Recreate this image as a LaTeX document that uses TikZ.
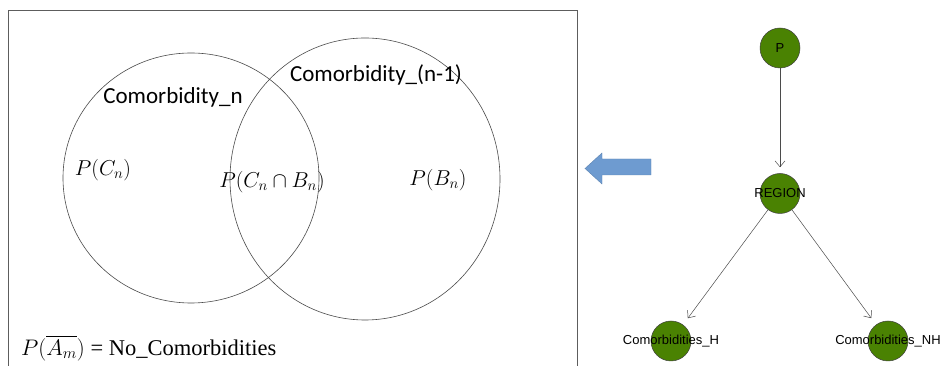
\RequirePackage{fix-cm}
\documentclass[tikz,border=0pt]{standalone}
\usepackage{amsmath,amssymb}
\usepackage{fontspec}
\setmainfont{Liberation Serif}
\newfontfamily\calfont{Carlito}
\newfontfamily\arialfont{Liberation Sans}
\usepackage{xcolor}
\usepackage{tikz}
\usetikzlibrary{shapes.geometric, arrows.meta, positioning, calc}
\definecolor{leaf}{RGB}{74,130,2}
\definecolor{sky}{RGB}{110,155,208}
\definecolor{ink}{RGB}{75,75,75}
\tikzset{
  panel/.style ={rectangle, draw=ink!90, line width=0.8pt, inner sep=0pt},
  setc/.style  ={ellipse, draw=ink, line width=0.6pt, inner sep=0pt},
  setlbl/.style={font=\calfont\fontsize{23}{27}\selectfont, inner sep=0pt},
  prob/.style  ={font=\fontsize{21.5}{25}\selectfont, inner sep=0pt},
  note/.style  ={font=\fontsize{22.5}{27}\selectfont, inner sep=0pt},
  blockar/.style={fill=sky, draw=sky!85!black, line width=0.4pt},
  gnode/.style ={circle, draw=black!75, fill=leaf, line width=0.5pt,
                 minimum size=40pt, inner sep=0pt},
  glbl/.style  ={font=\arialfont\fontsize{13}{15}\selectfont, text=black, inner sep=0pt},
  edg/.style   ={-{Straight Barb[length=6pt, width=10pt]}, draw=ink, line width=0.5pt,
                 shorten >=6pt},
}
\begin{document}
\begin{tikzpicture}[x=1pt, y=1pt]
\useasboundingbox (0,0) rectangle (940,366);
\clip (0,0) rectangle (940,366);
% venn panel
\node[panel, minimum width=569pt, minimum height=362pt] (frame) at (292.5,175) {};
\node[setc, minimum width=256pt, minimum height=250pt] (setn) at (191,188) {};
\node[setc, minimum width=270pt, minimum height=282pt] (setm) at (365,187) {};
\node[setlbl] (labn) at (173,269) {Comorbidity\_n};
\node[setlbl] (labm) at (376,291) {Comorbidity\_(n-1)};
\node[prob] (pc) at (103,196) {$P(C_n)$};
\node[prob] (pcb) at (272,184) {$P(C_n \cap B_n)$};
\node[prob] (pb) at (438,186) {$P(B_n)$};
\node[note, anchor=west] (nocom) at (21,18) {$P(\overline{A_m})$ = No\_Comorbidities};
% block arrow
\draw[blockar] (585,197.5) -- (602,213) -- (602,207) -- (651,207) -- (651,191)
  -- (602,191) -- (602,182) -- cycle;
% network
\node[gnode, label={[glbl]center:P}] (p) at (780,318) {};
\node[gnode, below=105pt of p, label={[glbl]center:REGION}] (region) {};
\node[gnode, label={[glbl]center:Comorbidities\_H}] (comh) at (671,25) {};
\node[gnode, label={[glbl]center:Comorbidities\_NH}] (comnh) at (888,25) {};
\draw[edg] (p) -- (region);
\draw[edg, shorten >=8pt] (region) -- (comh);
\draw[edg, shorten >=8pt] (region) -- (comnh);
\end{tikzpicture}
\end{document}
